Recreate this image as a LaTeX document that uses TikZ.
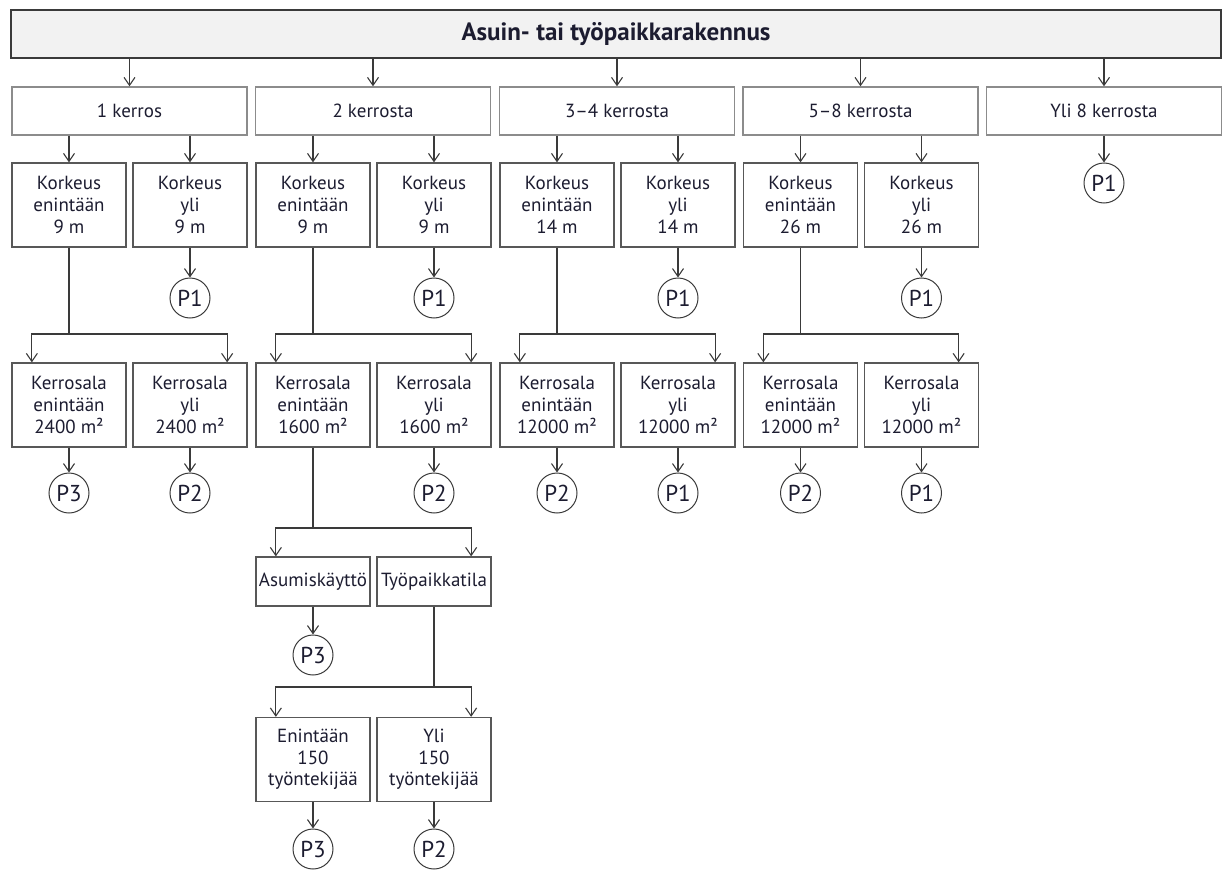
\documentclass[tikz,border=0pt]{standalone}
\usepackage{fontspec}
\setmainfont{PT Sans}
\usetikzlibrary{arrows.meta}
\definecolor{framegray}{HTML}{8C8C8C}
\definecolor{linegray}{HTML}{3A3A3A}
\definecolor{headfill}{HTML}{F2F2F2}
\definecolor{textnavy}{HTML}{1C1C30}
\begin{document}
\begin{tikzpicture}[x=1pt,y=-1pt,
  every node/.style={text=textnavy,font=\fontsize{19}{21.7}\selectfont},
  head/.style={draw=linegray,fill=headfill,line width=1.2pt,minimum width=1210pt,minimum height=48pt,font=\bfseries\fontsize{25}{28}\selectfont},
  floorbox/.style={draw=framegray,line width=1.4pt,minimum width=235pt,minimum height=48pt},
  testbox/.style={draw=linegray!85,line width=1.3pt,minimum width=114pt,minimum height=84pt,align=center,inner xsep=1pt},
  usebox/.style={testbox,minimum height=49pt},
  pclass/.style={draw=linegray,circle,line width=1pt,minimum size=40pt,inner sep=0pt,font=\fontsize{23}{26}\selectfont},
  link/.style={draw=linegray,line width=1.1pt,-{Straight Barb[length=8pt,width=11pt]}}]
\useasboundingbox (0,0) rectangle (1227,870);
% top level
\node[head] (bldg) at (616,34) {Asuin- tai työpaikkarakennus};
\node[floorbox] (f1) at (129.5,111) {1 kerros};
\node[floorbox] (f2) at (373,111) {2 kerrosta};
\node[floorbox] (f34) at (617,111) {3–4 kerrosta};
\node[floorbox] (f58) at (860.5,111) {5–8 kerrosta};
\node[floorbox] (f8) at (1104,111) {Yli 8 kerrosta};
\draw[link] (bldg.south -| f1.north) -- (f1.north);
\draw[link] (bldg.south -| f2.north) -- (f2.north);
\draw[link] (bldg.south -| f34.north) -- (f34.north);
\draw[link] (bldg.south -| f58.north) -- (f58.north);
\draw[link] (bldg.south -| f8.north) -- (f8.north);
% height
\node[testbox] (h1a) at (69,205) {Korkeus\\enintään\\9 m};
\node[testbox] (h1b) at (190,205) {Korkeus\\yli\\9 m};
\node[testbox] (h2a) at (313,205) {Korkeus\\enintään\\9 m};
\node[testbox] (h2b) at (434,205) {Korkeus\\yli\\9 m};
\node[testbox] (h34a) at (557,205) {Korkeus\\enintään\\14 m};
\node[testbox] (h34b) at (678,205) {Korkeus\\yli\\14 m};
\node[testbox] (h58a) at (800.5,205) {Korkeus\\enintään\\26 m};
\node[testbox] (h58b) at (921.5,205) {Korkeus\\yli\\26 m};
\node[pclass] (p8) at (1104,183) {P1};
\draw[link] (f1.south -| h1a.north) -- (h1a.north);
\draw[link] (f1.south -| h1b.north) -- (h1b.north);
\draw[link] (f2.south -| h2a.north) -- (h2a.north);
\draw[link] (f2.south -| h2b.north) -- (h2b.north);
\draw[link] (f34.south -| h34a.north) -- (h34a.north);
\draw[link] (f34.south -| h34b.north) -- (h34b.north);
\draw[link] (f58.south -| h58a.north) -- (h58a.north);
\draw[link] (f58.south -| h58b.north) -- (h58b.north);
\draw[link] (f8) -- (p8);
\node[pclass] (ph1) at (190,298) {P1};
\node[pclass] (ph2) at (434,298) {P1};
\node[pclass] (ph34) at (678,298) {P1};
\node[pclass] (ph58) at (921.5,298) {P1};
\draw[link] (h1b) -- (ph1);
\draw[link] (h2b) -- (ph2);
\draw[link] (h34b) -- (ph34);
\draw[link] (h58b) -- (ph58);
% floor area
\node[testbox] (a1a) at (69,405) {Kerrosala\\enintään\\2400 m²};
\node[testbox] (a1b) at (190,405) {Kerrosala\\yli\\2400 m²};
\node[testbox] (a2a) at (313,405) {Kerrosala\\enintään\\1600 m²};
\node[testbox] (a2b) at (434,405) {Kerrosala\\yli\\1600 m²};
\node[testbox] (a34a) at (557,405) {Kerrosala\\enintään\\12000 m²};
\node[testbox] (a34b) at (678,405) {Kerrosala\\yli\\12000 m²};
\node[testbox] (a58a) at (800.5,405) {Kerrosala\\enintään\\12000 m²};
\node[testbox] (a58b) at (921.5,405) {Kerrosala\\yli\\12000 m²};
\coordinate (j1) at (69,334);
\coordinate (j2) at (313,334);
\coordinate (j34) at (557,334);
\coordinate (j58) at (800.5,334);
\draw[link,-] (h1a) -- (j1);
\draw[link] (j1) -| ([xshift=20.5pt]a1a.north west);
\draw[link] (j1) -| ([xshift=-20.5pt]a1b.north east);
\draw[link,-] (h2a) -- (j2);
\draw[link] (j2) -| ([xshift=20.5pt]a2a.north west);
\draw[link] (j2) -| ([xshift=-20.5pt]a2b.north east);
\draw[link,-] (h34a) -- (j34);
\draw[link] (j34) -| ([xshift=20.5pt]a34a.north west);
\draw[link] (j34) -| ([xshift=-20.5pt]a34b.north east);
\draw[link,-] (h58a) -- (j58);
\draw[link] (j58) -| ([xshift=20.5pt]a58a.north west);
\draw[link] (j58) -| ([xshift=-20.5pt]a58b.north east);
\node[pclass] (pa1a) at (69,493) {P3};
\node[pclass] (pa1b) at (190,493) {P2};
\node[pclass] (pa2b) at (434,493) {P2};
\node[pclass] (pa34a) at (557,493) {P2};
\node[pclass] (pa34b) at (678,493) {P1};
\node[pclass] (pa58a) at (800.5,493) {P2};
\node[pclass] (pa58b) at (921.5,493) {P1};
\draw[link] (a1a) -- (pa1a);
\draw[link] (a1b) -- (pa1b);
\draw[link] (a2b) -- (pa2b);
\draw[link] (a34a) -- (pa34a);
\draw[link] (a34b) -- (pa34b);
\draw[link] (a58a) -- (pa58a);
\draw[link] (a58b) -- (pa58b);
% use of the building
\node[usebox] (u1) at (313,581.5) {Asumiskäyttö};
\node[usebox] (u2) at (434,581.5) {Työpaikkatila};
\coordinate (j2b) at (313,528);
\draw[link,-] (a2a) -- (j2b);
\draw[link] (j2b) -| ([xshift=20.5pt]u1.north west);
\draw[link] (j2b) -| ([xshift=-20.5pt]u2.north east);
\node[pclass] (pu1) at (313,655) {P3};
\draw[link] (u1) -- (pu1);
% workers
\node[testbox] (w1) at (313,759.5) {Enintään\\150\\työntekijää};
\node[testbox] (w2) at (434,759.5) {Yli\\150\\työntekijää};
\coordinate (j2c) at (434,687);
\draw[link,-] (u2) -- (j2c);
\draw[link] (j2c) -| ([xshift=20.5pt]w1.north west);
\draw[link] (j2c) -| ([xshift=-20.5pt]w2.north east);
\node[pclass] (pw1) at (313,849) {P3};
\node[pclass] (pw2) at (434,849) {P2};
\draw[link] (w1) -- (pw1);
\draw[link] (w2) -- (pw2);
\end{tikzpicture}
\end{document}
